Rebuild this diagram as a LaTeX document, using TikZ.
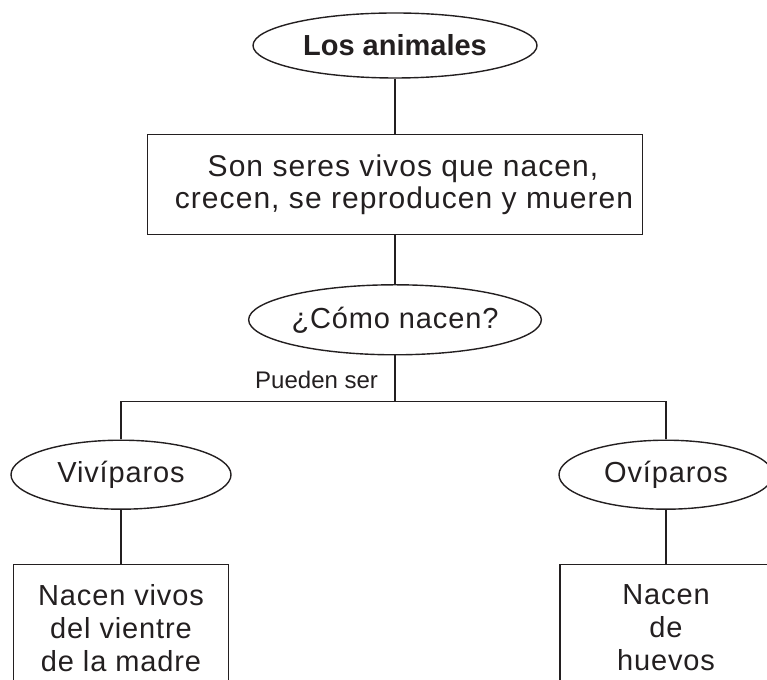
\documentclass[tikz,border=0pt]{standalone}
\usepackage{fontspec}
\setmainfont{Liberation Sans}
\newfontfamily\letra{Liberation Sans}[LetterSpace=3]
\newfontfamily\letraancha{Liberation Sans}[LetterSpace=3.5]
\usepackage{tikz}
\usetikzlibrary{positioning,shapes.geometric}
\definecolor{tinta}{HTML}{231F20}

\begin{document}
\begin{tikzpicture}[x=1pt,y=1pt,line width=1.4pt,color=tinta,
                    globo/.style={draw,ellipse,inner sep=0pt,font=\letra\fontsize{29}{33}\selectfont},
                    caja/.style={draw,rectangle,align=center,inner sep=0pt,font=\letra\fontsize{29}{33}\selectfont}]
  \useasboundingbox (0,0) rectangle (767,679);
  \clip (0,0) rectangle (767,679);
  \node[globo,minimum width=284pt,minimum height=65pt,font=\fontsize{29}{33}\selectfont\bfseries] (animales) at (395,633.5) {Los animales};
  \node[caja,minimum width=495pt,minimum height=100pt,below=55pt of animales,font=\letraancha\fontsize{30}{32}\selectfont] (seres) {\hspace*{16pt}Son seres vivos que nacen,\\\hspace*{18pt}crecen, se reproducen y mueren};
  \node[globo,minimum width=280pt,minimum height=70pt,below=49pt of seres] (como) {¿Cómo nacen?};
  \node[globo,minimum width=220pt,minimum height=69pt,below=84pt of como,xshift=-274pt] (vivi) {Vivíparos};
  \node[globo,minimum width=214pt,minimum height=69pt,below=84pt of como,xshift=271pt] (ovi) {Ovíparos};
  \node[caja,minimum width=215pt,minimum height=127pt,below=54pt of vivi] (madre) {Nacen vivos\\del vientre\\de la madre};
  \node[caja,minimum width=212pt,minimum height=127pt,below=54pt of ovi] (huevos) {Nacen\\de\\huevos};
  \draw (animales) -- (seres);
  \draw (seres) -- (como);
  \draw (como.south) -- ++(0,-46) coordinate (rama);
  \node[anchor=base east,font=\fontsize{24}{28}\selectfont] (pueden) at ([xshift=-13pt,yshift=13pt]rama) {Pueden ser};
  \draw (vivi.north) |- (rama) -| (ovi.north);
  \draw (vivi) -- (madre);
  \draw (ovi) -- (huevos);
\end{tikzpicture}
\end{document}
